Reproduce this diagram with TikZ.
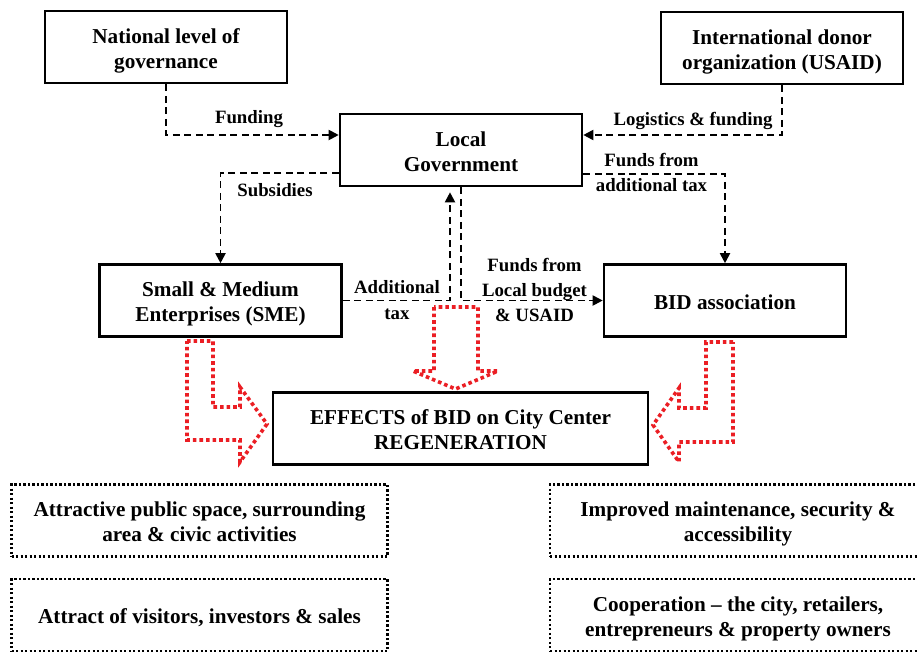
\documentclass[tikz,border=0pt]{standalone}
\usepackage{fontspec}
\setmainfont{Liberation Serif}
\usetikzlibrary{arrows.meta,calc}
\definecolor{dotred}{RGB}{235,30,36}
\newcommand{\boxtext}[1]{\begin{tabular}{@{}c@{}}\rule{0pt}{24.5pt}#1\end{tabular}}
\tikzset{
 box/.style={draw, line width=2.6pt, minimum width=242pt, minimum height=72pt, inner sep=0pt, font=\fontsize{21.2}{25}\selectfont\bfseries},
 widebox/.style={box, minimum width=375pt},
 dotbox/.style={draw, line width=2.2pt, dash pattern=on 2.2pt off 2.3pt, minimum width=376pt, minimum height=72pt, inner sep=0pt, font=\fontsize{21.2}{25}\selectfont\bfseries},
 lbl/.style={align=center, inner sep=0pt, font=\fontsize{18.8}{25}\selectfont\bfseries},
 flow/.style={line width=1.9pt, dash pattern=on 7pt off 4.5pt, -{Triangle[length=10pt,width=10pt]}},
 redarrow/.style={draw=dotred, line width=3.6pt, dash pattern=on 3.6pt off 3pt, line join=miter},
}
\begin{document}
\begin{tikzpicture}[x=1pt,y=-1pt]
\useasboundingbox (0,0) rectangle (917,653);
\clip (0,0) rectangle (917,653);
% boxes
\node[box] (nat) at (166,47) {\boxtext{National level of\\governance}};
\node[box] (intl) at (782,48) {\boxtext{International donor\\organization (USAID)}};
\node[box] (lg) at (461,150) {\boxtext{Local\\Government}};
\node[box] (sme) at (220.5,300.5) {\boxtext{Small \& Medium\\Enterprises (SME)}};
\node[box] (bid) at (725,300.5) {\boxtext{BID association}};
\node[widebox] (eff) at (460.5,428.5) {\boxtext{EFFECTS of BID on City Center\\REGENERATION}};
\node[dotbox] (d1) at (199.5,520.5) {\boxtext{Attractive public space, surrounding\\area \& civic activities}};
\node[dotbox] (d2) at (199.5,615) {\boxtext{Attract of visitors, investors \& sales}};
\node[dotbox] (d3) at (738,520.5) {\boxtext{Improved maintenance, security \&\\accessibility}};
\node[dotbox] (d4) at (738,615) {\boxtext{Cooperation – the city, retailers,\\entrepreneurs \& property owners}};
% connectors
\draw[flow] (nat.south) |- ([yshift=15pt]lg.west);
\draw[flow] (intl.south) |- ([yshift=15pt]lg.east);
\draw[flow] ([yshift=-24pt]lg.east) -| (bid.north);
\draw[flow] ([yshift=-23pt]lg.west) -| (sme.north);
\draw[flow, shorten >=5pt] (sme.east) -| ([xshift=-11pt]lg.south);
\draw[flow] (lg.south) |- (bid.west);
% labels
\node[lbl] (lfund) at (249,119) {Funding};
\node[lbl] (llog) at (693,121) {Logistics \& funding};
\node[lbl] (ltax) at (651.5,172.5) {Funds from\\additional tax};
\node[lbl] (lsub) at (275,190.5) {Subsidies};
\node[lbl, font=\fontsize{18.8}{26}\selectfont\bfseries] (ladd) at (397,300) {Additional\\tax};
\node[lbl] (lloc) at (534.5,290) {Funds from\\Local budget\\\& USAID};
% red block arrows
\draw[redarrow] (434,307) -- (434,371) -- (413,371) -- (455.5,389) -- (498,371) -- (478,371) -- (478,307) -- cycle;
\draw[redarrow] (187,341) -- (213,341) -- (213,407) -- (240,407) -- (240,387) -- (267,424) -- (240,462) -- (240,440) -- (187,440) -- cycle;
\draw[redarrow] (733,342) -- (706,342) -- (706,408) -- (679,408) -- (679,388) -- (653,425) -- (679,462) -- (679,442) -- (733,442) -- cycle;
\end{tikzpicture}
\end{document}
